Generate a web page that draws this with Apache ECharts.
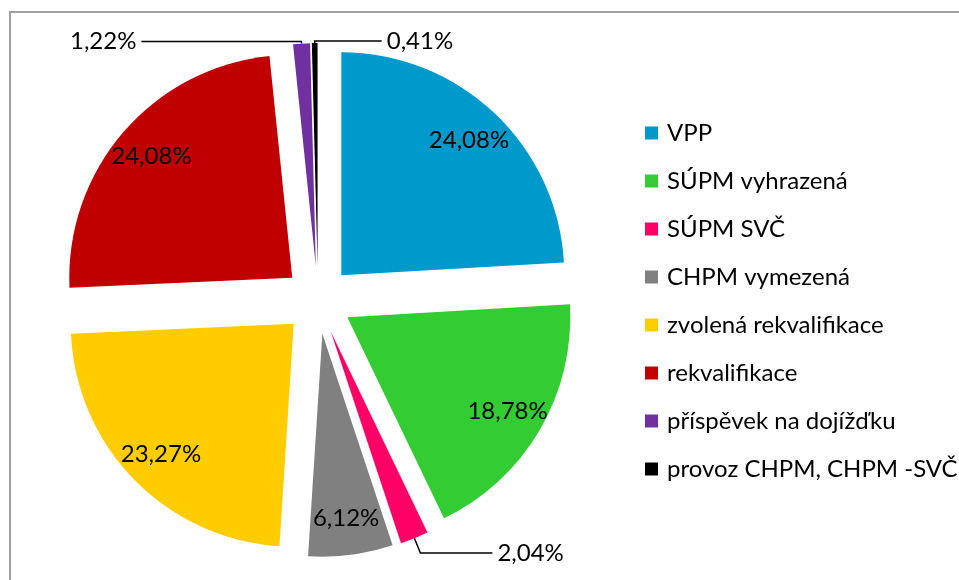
<!DOCTYPE html>
<html>
<head>
<meta charset="utf-8">
<script src="https://cdn.jsdelivr.net/npm/echarts@6/dist/echarts.min.js"></script>
<style>
  html, body { margin: 0; padding: 0; background: #fff; }
  #main { width: 959px; height: 580px; }
</style>
</head>
<body>
<div id="main"></div>
<script>
// 数据：各项占比（%）
const categories = ['VPP', 'SÚPM vyhrazená', 'SÚPM SVČ', 'CHPM vymezená', 'zvolená rekvalifikace', 'rekvalifikace', 'příspěvek na dojížďku', 'provoz CHPM, CHPM -SVČ'];
const shares = [24.08, 18.78, 2.04, 6.12, 23.27, 24.08, 1.22, 0.41];
const colors = ['#0099cc', '#33cc33', '#ff0066', '#808080', '#ffcc00', '#c00000', '#7030a0', '#000000'];
const insideLabel = [true, true, false, true, true, true, false, false];

// 外部标签引线 [length, length2]，以及需要翻到右侧的标签
const outerLines = { 2: [16, 72], 6: [2, 160], 7: [2, 67] };
const flipRight = [7];

const CX = 318, CY = 300, R = 223, R_LABEL = 143, EXPLODE = 34;
const FONT = 'Lato';

const fmt = p => p.value.toFixed(2).replace('.', ',') + '%';

// 右侧翻转：把默认引线按起点水平镜像
function flipLayout(p) {
  const pts = p.labelLinePoints;
  if (!pts || !pts.length) return {};
  const x0 = pts[0][0];
  const m = pts.map(q => [2 * x0 - q[0], q[1]]);
  const end = m[m.length - 1];
  return { x: end[0] + 5, y: end[1], align: 'left', verticalAlign: 'middle', labelLinePoints: m };
}

const total = shares.reduce((a, b) => a + b, 0);
const series = [];
let acc = 0;
shares.forEach((v, i) => {
  const mid = (acc + v / 2) / total * 2 * Math.PI;
  acc += v;
  const center = [CX + EXPLODE * Math.sin(mid), CY - EXPLODE * Math.cos(mid)];
  const inside = insideLabel[i];

  const sliceData = categories.map((name, j) => ({
    name,
    value: shares[j],
    itemStyle: { color: j === i ? colors[i] : 'transparent' },
    label: { show: j === i && !inside },
    labelLine: { show: j === i && !inside }
  }));
  const line = outerLines[i] || [10, 20];
  series.push({
    type: 'pie',
    center,
    radius: [0, R],
    startAngle: 90,
    clockwise: true,
    silent: true,
    animation: false,
    avoidLabelOverlap: false,
    itemStyle: { borderWidth: 0 },
    label: {
      position: 'outside',
      formatter: fmt,
      fontFamily: FONT,
      fontSize: 24,
      color: '#000'
    },
    labelLine: {
      length: line[0],
      length2: line[1],
      smooth: false,
      lineStyle: { color: '#000', width: 1.5 }
    },
    labelLayout: flipRight.includes(i) ? flipLayout : null,
    data: sliceData
  });

  if (inside) {
    series.push({
      type: 'pie',
      center,
      radius: [R_LABEL, R],
      startAngle: 90,
      clockwise: true,
      silent: true,
      animation: false,
      avoidLabelOverlap: false,
      itemStyle: { color: 'transparent', borderWidth: 0 },
      label: { position: 'inside', formatter: fmt, fontFamily: FONT, fontSize: 24, color: '#000' },
      labelLine: { show: false },
      data: categories.map((name, j) => ({
        name,
        value: shares[j],
        label: { show: j === i }
      }))
    });
  }
});

const chart = echarts.init(document.getElementById('main'), null, { renderer: 'canvas' });
chart.setOption({
  backgroundColor: '#fff',
  animation: false,
  graphic: [{
    type: 'rect',
    shape: { x: 10, y: 12, width: 1200, height: 800 },
    style: { fill: 'none', stroke: '#a0a0a0', lineWidth: 2 },
    silent: true
  }],
  legend: {
    orient: 'vertical',
    left: 640,
    top: 114,
    icon: 'rect',
    itemWidth: 13,
    itemHeight: 13,
    itemGap: 20,
    selectedMode: false,
    data: categories.map((name, i) => ({ name, itemStyle: { color: colors[i] } })),
    textStyle: { fontFamily: FONT, fontSize: 24, lineHeight: 28, color: '#000', padding: [0, 0, 0, 4] }
  },
  series
});
</script>
</body>
</html>
